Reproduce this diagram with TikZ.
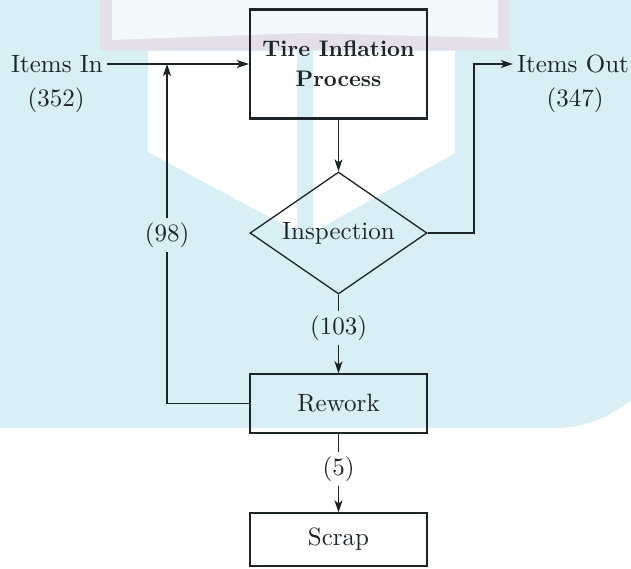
\documentclass[tikz,border=0pt]{standalone}
\usepackage{fontspec}
\setmainfont{lmroman10-regular.otf}[BoldFont=lmroman10-bold.otf]
\usepackage{tikz}
\usetikzlibrary{arrows.meta,shapes.geometric,positioning}
\definecolor{wmcyan}{RGB}{216,239,245}
\definecolor{wmpink}{RGB}{229,223,233}
\definecolor{ink}{RGB}{28,36,40}

\begin{document}
\begin{tikzpicture}[
    x=1pt, y=-1pt,
    font=\fontsize{25}{30}\selectfont,
    box/.style={draw=ink, line width=1.3pt, minimum width=177pt, inner sep=0pt, align=center, text=ink},
    decision/.style={diamond, draw=ink, line width=1.3pt, minimum width=177pt, minimum height=122pt, inner sep=0pt, aspect=1.45, text=ink},
    lbl/.style={inner sep=4pt, text=ink},
    conn/.style={draw=ink, line width=1.3pt},
    arr/.style={-{Stealth[length=12pt,width=8pt,inset=3pt]}, line width=1.3pt, draw=ink}
]
\useasboundingbox (0,0) rectangle (631,568);
% watermark behind the chart
\fill[wmcyan, rounded corners=120pt] (-178,-200) rectangle (674,428);
\fill[wmpink] (100,0) -- (510,0) -- (510,50) -- (100,50) -- cycle;
\fill[wmcyan!35!white] (112,0) -- (498,0) -- (498,38) -- (305,33) -- (112,40) -- cycle;
\fill[white] (148,51) -- (297,51) -- (297,232) -- (148,152) -- cycle;
\fill[white] (313,51) -- (455,51) -- (455,153) -- (313,232) -- cycle;

\node[box, line width=2.2pt, minimum height=109pt, font=\fontsize{22.5}{30}\selectfont\bfseries] (proc) at (338.5,64) {Tire Inflation\\Process};
\node[decision] (insp) at (338.5,233) {Inspection};
\node[box, minimum height=59pt] (rework) at (338.5,403.5) {Rework};
\node[box, minimum height=53pt] (scrap) at (338.5,539.5) {Scrap};

\node[lbl] (itemsin) at (57,64) {Items In};
\node[lbl] (in352) at (56,100) {(352)};
\node[lbl] (itemsout) at (573,64) {Items Out};
\node[lbl] (out347) at (575,100) {(347)};
\node[lbl] (n98) at (167,235) {(98)};
\node[lbl] (n103) at (338.5,328) {(103)};
\node[lbl] (n5) at (338.5,469) {(5)};
\coordinate (join) at (167,64);
\coordinate (bend) at (474,64);

\draw[arr] (itemsin.east) -- (proc.west);
\draw[arr] (proc) -- (insp);
\draw[arr] (insp.east) -| (bend) -- (itemsout.west);
\draw[conn] (insp) -- (n103);
\draw[arr] (n103) -- (rework);
\draw[conn] (rework) -- (n5);
\draw[arr] (n5) -- (scrap);
\draw[conn] (rework.west) -| (n98.south);
\draw[arr] (n98) -- (join);
\end{tikzpicture}
\end{document}
